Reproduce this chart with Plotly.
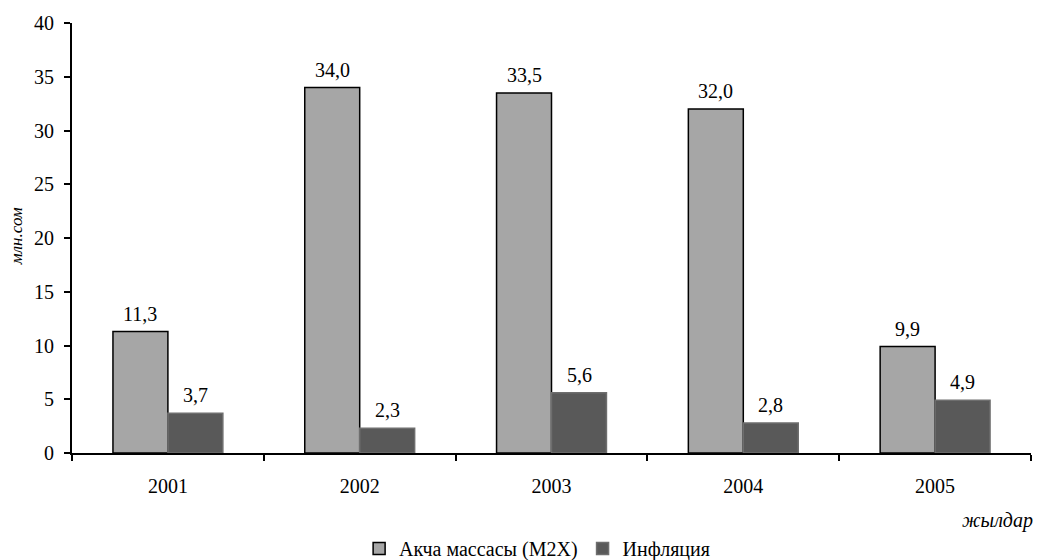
import plotly.graph_objects as go

years = ["2001", "2002", "2003", "2004", "2005"]
money_supply = [11.3, 34.0, 33.5, 32.0, 9.9]
inflation = [3.7, 2.3, 5.6, 2.8, 4.9]
series_names = ["Акча массасы (М2Х)", "Инфляция"]

def fmt(v):
    return f"{v:.1f}".replace(".", ",")

FAM = "Liberation Serif, Times New Roman, Times, DejaVu Serif, serif"
font = dict(family=FAM, size=20, color="black")

fig = go.Figure()
fig.add_trace(go.Bar(
    x=years, y=money_supply, name=series_names[0],
    marker=dict(color="#a6a6a6", line=dict(color="black", width=1.5)),
))
fig.add_trace(go.Bar(
    x=years, y=inflation, name=series_names[1],
    marker=dict(color="#595959", line=dict(color="#6e6e6e", width=1.5)),
))

annotations = []
for series, shift in ((money_supply, -27.5), (inflation, 27.5)):
    for i, v in enumerate(series):
        annotations.append(dict(x=i, y=v, xref="x", yref="y", text=fmt(v),
                                showarrow=False, xshift=shift, yshift=5,
                                yanchor="bottom", xanchor="center", font=font))
annotations.append(dict(text="<i>жылдар</i>", xref="paper", yref="paper", x=1.004, y=-0.158,
                        xanchor="right", yanchor="middle", showarrow=False,
                        font=dict(family=FAM, size=20)))
annotations.append(dict(text="<i>млн.сом</i>", xref="paper", yref="paper", x=-0.057, y=0.505,
                        xanchor="center", yanchor="middle", textangle=-90, showarrow=False,
                        font=dict(family=FAM, size=17)))

fig.update_layout(
    width=1037, height=560,
    margin=dict(l=72, r=6, t=23, b=107, autoexpand=False),
    paper_bgcolor="white", plot_bgcolor="white",
    font=font,
    barmode="group", bargap=0.427, bargroupgap=0,
    showlegend=True,
    legend=dict(orientation="h", x=0.485, xanchor="center", y=-0.222, yanchor="middle",
                font=dict(family=FAM, size=20), itemwidth=30,
                tracegroupgap=0),
    xaxis=dict(type="category", range=[-0.5, len(years) - 0.5],
               showline=True, linecolor="black", linewidth=2,
               ticks="outside", tickson="boundaries", ticklen=6, tickcolor="black",
               tickwidth=2, showgrid=False, tickfont=font, automargin=False,
               tickangle=0, ticklabelstandoff=14),
    yaxis=dict(range=[0, 40], dtick=5, showline=True, linecolor="black", linewidth=2,
               ticks="outside", ticklen=6, tickcolor="black", tickwidth=2,
               showgrid=False, zeroline=False, tickfont=font, automargin=False,
               ticklabelstandoff=6),
    annotations=annotations,
)

fig.write_html("out.html", config={"displayModeBar": False},
               post_script="document.body.style.margin='0';")
